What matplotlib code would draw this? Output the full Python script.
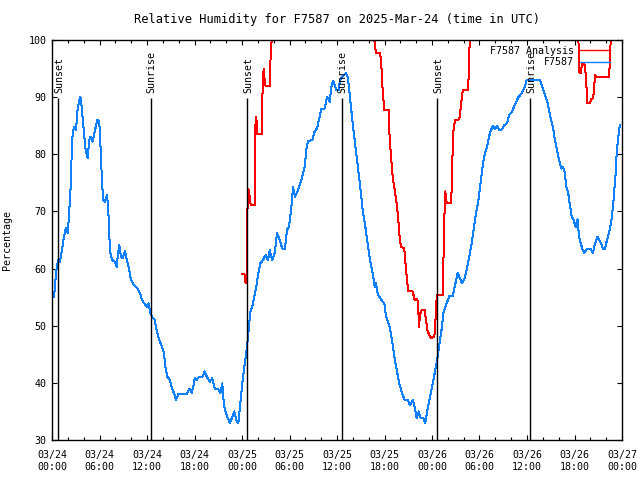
import numpy as np
import matplotlib
matplotlib.use("Agg")
import matplotlib.pyplot as plt
from matplotlib.ticker import MultipleLocator

plt.rcParams['font.family'] = ['DejaVu Sans Mono']
plt.rcParams['font.size'] = 7.2

TITLE = 'Relative Humidity for F7587 on 2025-Mar-24 (time in UTC)'

# hours since 2025-03-24 00:00 UTC
blue_hours = [
    0.25, 0.38, 0.5, 0.76, 1.0, 1.26, 1.5, 1.77, 2.0, 2.15,
    2.36, 2.49, 2.61, 2.78, 3.03, 3.2, 3.45, 3.58, 3.7, 3.87,
    4.08, 4.25, 4.5, 4.71, 4.88, 5.14, 5.43, 5.72, 5.97, 6.15,
    6.32, 6.48, 6.73, 6.95, 7.11, 7.24, 7.37, 7.58, 7.96, 8.17,
    8.34, 8.5, 8.72, 8.93, 9.22, 9.51, 9.77, 9.98, 10.36, 10.78,
    11.12, 11.37, 11.66, 11.96, 12.21, 12.38, 12.63, 12.97, 13.22, 13.48,
    13.81, 14.15, 14.31, 14.56, 14.9, 15.16, 15.41, 15.66, 15.95, 16.38,
    17.01, 17.35, 17.64, 17.85, 18.02, 18.23, 18.57, 18.99, 19.28, 19.58,
    19.92, 20.25, 20.55, 20.97, 21.26, 21.51, 21.69, 21.85, 22.14, 22.48,
    22.78, 23.03, 23.28, 23.53, 23.79, 24.04, 24.29, 24.54, 24.8, 25.05,
    25.3, 25.55, 25.81, 26.06, 26.31, 26.65, 26.99, 27.28, 27.5, 27.82,
    28.13, 28.42, 28.76, 29.09, 29.43, 29.68, 29.94, 30.1, 30.28, 30.44,
    30.69, 31.03, 31.29, 31.62, 31.92, 32.12, 32.34, 32.88, 33.18, 33.47,
    33.72, 34.02, 34.45, 34.73, 35.08, 35.28, 35.49, 35.71, 35.9, 36.2,
    36.38, 36.72, 37.13, 37.35, 37.55, 37.77, 37.98, 38.23, 38.49, 38.74,
    39.03, 39.24, 39.58, 39.88, 40.17, 40.51, 40.76, 40.92, 41.18, 41.56,
    41.98, 42.19, 42.6, 42.95, 43.24, 43.54, 43.87, 44.21, 44.55, 44.93,
    45.22, 45.56, 45.81, 46.07, 46.32, 46.57, 46.9, 47.15, 47.4, 47.75,
    48.09, 48.42, 48.72, 49.01, 49.26, 49.42, 49.77, 50.18, 50.61, 50.86,
    51.24, 51.53, 51.79, 52.13, 52.42, 52.71, 53.01, 53.3, 53.56, 53.81,
    54.05, 54.44, 54.69, 54.95, 55.2, 55.45, 55.7, 55.96, 56.21, 56.55,
    56.88, 57.13, 57.47, 57.73, 58.06, 58.35, 58.65, 58.9, 59.24, 59.49,
    59.74, 59.96, 60.67, 61.64, 61.93, 62.28, 62.61, 62.94, 63.28, 63.53,
    63.78, 64.03, 64.37, 64.54, 64.79, 64.96, 65.21, 65.39, 65.64, 65.89,
    66.14, 66.4, 66.56, 66.73, 66.98, 67.23, 67.57, 67.99, 68.33, 68.59,
    68.93, 69.26, 69.6, 69.85, 70.1, 70.36, 70.61, 70.86, 71.03, 71.2,
    71.33, 71.49, 71.66, 71.75,
]
blue_rh = [
    55.1, 56.8, 59.2, 61.5, 61.2, 63.2, 65.6, 67.1, 66.2, 69.7,
    74.3, 80.2, 83.7, 84.8, 84.2, 87.5, 89.5, 90.1, 89.0, 86.3,
    83.1, 80.7, 79.3, 82.5, 83.1, 82.2, 84.2, 86.0, 85.7, 80.7,
    75.0, 72.0, 71.7, 72.9, 70.2, 65.6, 62.7, 61.5, 61.2, 60.3,
    62.7, 64.1, 62.1, 61.8, 63.0, 61.2, 59.7, 58.0, 57.1, 56.5,
    55.7, 54.5, 53.9, 53.3, 53.9, 52.4, 51.6, 51.0, 49.2, 47.8,
    46.6, 45.2, 42.8, 41.1, 40.5, 39.0, 38.2, 37.0, 38.0, 38.0,
    38.0, 39.0, 38.2, 39.3, 40.8, 40.5, 41.0, 41.0, 42.0, 41.0,
    40.2, 40.8, 39.0, 39.0, 38.2, 39.9, 36.7, 35.2, 34.1, 32.9,
    34.1, 35.0, 33.5, 32.9, 36.4, 39.9, 42.8, 45.2, 48.7, 52.4,
    53.3, 55.1, 56.8, 59.2, 60.9, 61.5, 62.4, 61.5, 63.2, 61.5,
    62.7, 66.2, 65.0, 63.5, 63.5, 66.8, 67.3, 69.1, 71.4, 74.3,
    72.6, 73.5, 74.6, 76.1, 77.8, 80.8, 82.3, 82.5, 84.0, 84.5,
    86.0, 88.0, 88.0, 90.0, 89.2, 91.8, 92.9, 92.1, 91.3, 91.2,
    93.0, 93.6, 94.2, 93.6, 91.2, 88.3, 85.4, 82.5, 79.6, 76.7,
    73.2, 70.2, 67.3, 64.4, 61.5, 59.2, 56.8, 57.4, 55.4, 54.6,
    53.9, 51.6, 50.1, 47.5, 44.6, 42.3, 39.9, 38.2, 37.0, 37.0,
    36.1, 37.0, 35.8, 33.8, 35.0, 33.8, 33.8, 32.9, 35.2, 37.6,
    39.9, 42.3, 44.6, 47.5, 49.8, 52.2, 53.6, 55.2, 55.2, 56.8,
    59.2, 58.3, 57.4, 58.3, 60.0, 62.1, 64.4, 67.3, 69.7, 71.4,
    74.0, 78.4, 80.2, 81.3, 83.1, 84.2, 85.0, 84.4, 85.0, 84.2,
    84.4, 85.1, 85.4, 86.9, 87.3, 88.3, 89.2, 90.0, 90.5, 91.2,
    91.9, 93.0, 93.0, 93.0, 91.8, 90.4, 88.9, 86.6, 84.8, 82.5,
    80.8, 79.0, 77.5, 77.8, 76.7, 74.3, 73.2, 71.4, 69.1, 68.5,
    67.3, 68.6, 65.6, 64.7, 63.5, 62.7, 63.5, 63.5, 62.7, 64.4,
    65.6, 64.7, 63.5, 63.5, 65.0, 66.2, 67.9, 70.8, 73.8, 76.7,
    80.2, 82.5, 84.5, 85.1,
]

red_hours = [
    24.04, 24.33, 24.38, 24.54, 24.63, 24.67, 24.8, 24.97, 25.1, 25.6,
    25.6, 25.73, 25.86, 25.93, 26.49, 26.53, 26.61, 26.74, 26.87, 26.99,
    27.5, 27.57, 27.62, 27.75,
    40.71, 40.84, 40.92, 41.43, 41.56, 41.68, 41.77, 41.98, 42.53, 42.6,
    42.82, 43.03, 43.29, 43.54, 43.74, 43.96, 44.12, 44.5, 44.63, 44.8,
    45.0, 45.56, 45.81, 46.07, 46.23, 46.36, 46.48, 46.65, 47.07, 47.24,
    47.41, 47.66, 47.91, 48.25, 48.38, 48.5, 48.63, 49.35, 49.42, 49.55,
    49.68, 49.85, 50.4, 50.52, 50.61, 50.74, 50.94, 51.45, 51.66, 51.88,
    52.51, 52.64, 52.71, 52.8,
    66.5, 66.56, 66.77, 66.98, 67.32, 67.49, 67.62, 67.96, 68.08, 68.33,
    68.46, 68.59, 68.76, 70.36, 70.48, 70.57, 72.0,
]
red_rh = [
    59.0, 59.0, 57.7, 57.4, 61.2, 69.7, 74.0, 72.6, 71.1, 71.1,
    79.0, 86.6, 85.7, 83.5, 83.5, 86.3, 92.1, 95.0, 92.7, 91.9,
    91.9, 94.2, 98.0, 100,
    100, 98.5, 97.7, 97.7, 96.5, 93.6, 91.0, 87.7, 87.7, 84.2,
    79.6, 76.1, 73.7, 71.4, 68.5, 64.7, 63.8, 63.5, 61.2, 58.6,
    56.0, 56.0, 54.5, 54.7, 54.2, 49.8, 51.9, 52.7, 52.7, 51.0,
    49.2, 48.4, 47.8, 48.1, 48.7, 53.3, 55.4, 55.4, 59.7, 68.5,
    73.5, 71.5, 71.5, 74.9, 81.3, 84.8, 86.0, 86.1, 88.6, 91.2,
    91.2, 93.6, 98.2, 100,
    100, 94.5, 94.2, 95.9, 95.6, 92.4, 88.9, 88.9, 89.6, 89.8,
    91.0, 93.9, 93.6, 93.6, 96.5, 100, 100,
]

sun_hours = [0.76, 12.46, 24.67, 36.59, 48.63, 60.42]
sun_labels = ['Sunset', 'Sunrise', 'Sunset', 'Sunrise', 'Sunset', 'Sunrise']

tick_hours = list(range(0, 73, 6))
tick_labels = ['03/24\n00:00', '03/24\n06:00', '03/24\n12:00', '03/24\n18:00',
               '03/25\n00:00', '03/25\n06:00', '03/25\n12:00', '03/25\n18:00',
               '03/26\n00:00', '03/26\n06:00', '03/26\n12:00', '03/26\n18:00',
               '03/27\n00:00']

fig = plt.figure(figsize=(6.4, 4.8), dpi=100)
ax = fig.add_axes([52 / 640, 40 / 480, 570 / 640, 400 / 480])

ax.plot(red_hours, red_rh, color='#ff0000', lw=0.72, antialiased=False,
        label='F7587 Analysis')
ax.plot(blue_hours, blue_rh, color='#1080ff', lw=0.72, antialiased=False,
        label='F7587')

# sunrise / sunset markers
ax.vlines(sun_hours, 30, 89.8, color='black', lw=1)
for h, lab in zip(sun_hours, sun_labels):
    ax.text(h + 0.15, 90.8, lab, rotation=90, ha='center', va='bottom')

ax.set_xlim(0, 72)
ax.set_ylim(30, 100)
ax.set_xticks(tick_hours)
ax.set_xticklabels(tick_labels, linespacing=1.3)
ax.xaxis.set_minor_locator(MultipleLocator(2))
ax.set_yticks(range(30, 101, 10))
ax.tick_params(which='both', direction='in', top=True, right=True, width=0.8)
ax.tick_params(which='major', length=3.3)
ax.tick_params(axis='x', which='major', pad=7)
ax.tick_params(axis='y', which='major', pad=4)
ax.tick_params(which='minor', length=2)
for s in ax.spines.values():
    s.set_linewidth(1)

ax.set_ylabel('Percentage')
ax.yaxis.set_label_coords(-0.07, 0.5)
ax.set_title(TITLE, pad=12)

leg = ax.legend(loc='upper right', bbox_to_anchor=(0.979, 0.985), frameon=False,
                markerfirst=False, handlelength=3, handletextpad=0.6,
                labelspacing=0.15, borderpad=0, borderaxespad=0)
for line in leg.get_lines():
    line.set_linewidth(1.0)

fig.savefig('out.png', dpi=100)
